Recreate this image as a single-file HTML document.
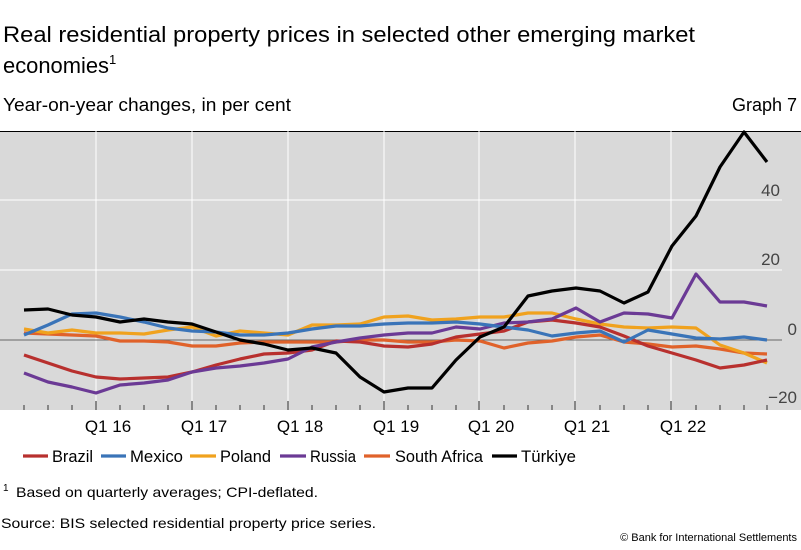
<!DOCTYPE html>
<html><head><meta charset="utf-8"><style>
body{margin:0;background:#fff;}
svg{display:block;font-family:"Liberation Sans",sans-serif;}
</style></head><body>
<svg width="801" height="550" viewBox="0 0 801 550" xmlns="http://www.w3.org/2000/svg">
<text x="3" y="42" font-size="22" fill="#000" textLength="692" lengthAdjust="spacingAndGlyphs">Real residential property prices in selected other emerging market</text>
<text x="3" y="73" font-size="22" fill="#000"><tspan textLength="106" lengthAdjust="spacingAndGlyphs">economies</tspan><tspan font-size="13" dy="-9">1</tspan></text>
<text x="3" y="111" font-size="18" fill="#000" textLength="288" lengthAdjust="spacingAndGlyphs">Year-on-year changes, in per cent</text>
<text x="797" y="111" font-size="18" fill="#000" text-anchor="end">Graph 7</text>
<rect x="0" y="131" width="801" height="279" fill="#d9d9d9"/>
<line x1="0" y1="131.5" x2="801" y2="131.5" stroke="#000" stroke-width="1"/>
<g stroke="#fff" stroke-width="1">
<line x1="0" y1="200" x2="782" y2="200"/><line x1="0" y1="270" x2="782" y2="270"/>
<line x1="96" y1="131" x2="96" y2="410"/><line x1="192" y1="131" x2="192" y2="410"/><line x1="288" y1="131" x2="288" y2="410"/><line x1="384" y1="131" x2="384" y2="410"/><line x1="479" y1="131" x2="479" y2="410"/><line x1="575" y1="131" x2="575" y2="410"/><line x1="671" y1="131" x2="671" y2="410"/>
</g>
<line x1="0" y1="340" x2="782" y2="340" stroke="#666" stroke-width="1"/>
<g stroke="#333" stroke-width="1">
<path d="M24 405V410M48 405V410M72 405V410M120 405V410M144 405V410M168 405V410M216 405V410M240 405V410M264 405V410M312 405V410M336 405V410M360 405V410M408 405V410M432 405V410M456 405V410M504 405V410M528 405V410M552 405V410M600 405V410M624 405V410M648 405V410M696 405V410M720 405V410M744 405V410M767 405V410"/>
<path d="M96 401V410M192 401V410M288 401V410M384 401V410M479 401V410M575 401V410M671 401V410"/>
</g>
<g font-size="17" fill="#444" text-anchor="end">
<text x="780" y="196">40</text><text x="780" y="265">20</text><text x="797" y="335">0</text><text x="797" y="403">−20</text>
</g>
<g font-size="17" fill="#000" text-anchor="middle">
<text x="108" y="432">Q1 16</text><text x="204" y="432">Q1 17</text><text x="300" y="432">Q1 18</text><text x="396" y="432">Q1 19</text><text x="491" y="432">Q1 20</text><text x="587" y="432">Q1 21</text><text x="683" y="432">Q1 22</text>
</g>
<g fill="none" stroke-width="3.2" stroke-linejoin="round">
<polyline stroke="#e0622a" points="24,333 48,334 72,335 96,336 120,341 144,341 168,342 192,346 216,346 240,343 264,342 288,342 312,342 336,342 360,340 384,340 408,342 432,342 456,340 480,341 504,348 528,343 552,341 576,337 600,335 624,342 648,344 672,347 696,346 720,349 744,353 767,354"/>
<polyline stroke="#f0a21e" points="24,329 48,333 72,330 96,333 120,333 144,334 168,330 192,327 216,336 240,331 264,333 288,335 312,325 336,325 360,324 384,317 408,316 432,320 456,319 480,317 504,317 528,313 552,313 576,319 600,324 624,327 648,328 672,327 696,328 720,345 744,353 767,363"/>
<polyline stroke="#b8302e" points="24,355 48,363 72,371 96,377 120,379 144,378 168,377 192,372 216,365 240,359 264,354 288,353 312,350 336,341 360,342 384,346 408,347 432,344 456,337 480,334 504,331 528,322 552,320 576,323 600,327 624,336 648,346 672,353 696,360 720,368 744,365 767,360"/>
<polyline stroke="#6b3a95" points="24,373 48,382 72,387 96,393 120,385 144,383 168,380 192,372 216,368 240,366 264,363 288,359 312,347 336,342 360,338 384,335 408,333 432,333 456,327 480,329 504,323 528,322 552,319 576,308 600,322 624,313 648,314 672,318 696,274 720,302 744,302 767,306"/>
<polyline stroke="#3a74b8" points="24,335 48,325 72,314 96,313 120,317 144,322 168,328 192,331 216,332 240,335 264,335 288,333 312,329 336,326 360,326 384,324 408,323 432,323 456,322 480,324 504,327 528,330 552,336 576,333 600,331 624,342 648,330 672,334 696,338 720,339 744,337 767,340"/>
<polyline stroke="#000" points="24,310 48,309 72,315 96,317 120,322 144,319 168,322 192,324 216,332 240,340 264,344 288,350 312,348 336,353 360,377 384,392 408,388 432,388 456,360 480,337 504,327 528,296 552,291 576,288 600,291 624,303 648,292 672,246 696,216 720,167 744,132 767,162"/>
</g>
<g stroke-width="3.2">
<line x1="23" y1="456" x2="48" y2="456" stroke="#b8302e"/>
<line x1="101" y1="456" x2="126" y2="456" stroke="#3a74b8"/>
<line x1="190" y1="456" x2="216" y2="456" stroke="#f0a21e"/>
<line x1="280" y1="456" x2="306" y2="456" stroke="#6b3a95"/>
<line x1="364" y1="456" x2="390" y2="456" stroke="#e0622a"/>
<line x1="492" y1="456" x2="517" y2="456" stroke="#000"/>
</g>
<g font-size="17" fill="#000" lengthAdjust="spacingAndGlyphs">
<text x="52" y="462" textLength="41" lengthAdjust="spacingAndGlyphs">Brazil</text><text x="130" y="462" textLength="53" lengthAdjust="spacingAndGlyphs">Mexico</text><text x="220" y="462" textLength="51" lengthAdjust="spacingAndGlyphs">Poland</text><text x="310" y="462" textLength="46" lengthAdjust="spacingAndGlyphs">Russia</text><text x="395" y="462" textLength="88" lengthAdjust="spacingAndGlyphs">South Africa</text><text x="521" y="462" textLength="55" lengthAdjust="spacingAndGlyphs">Türkiye</text>
</g>
<text x="3" y="491" font-size="10">1</text>
<text x="16" y="497" font-size="14" textLength="302" lengthAdjust="spacingAndGlyphs">Based on quarterly averages; CPI-deflated.</text>
<text x="1" y="528" font-size="14" textLength="375" lengthAdjust="spacingAndGlyphs">Source: BIS selected residential property price series.</text>
<text x="797" y="541" font-size="11" text-anchor="end">© Bank for International Settlements</text>
</svg>
</body></html>
